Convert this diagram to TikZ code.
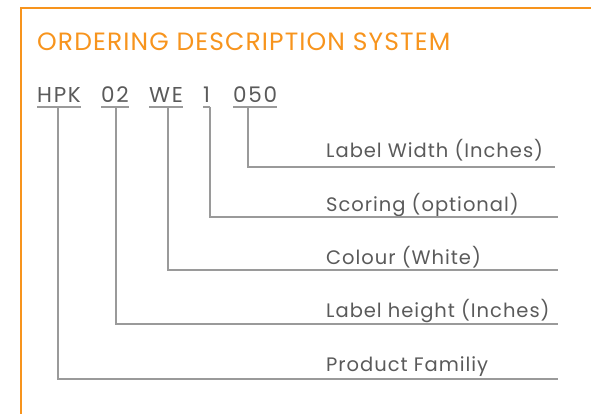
\documentclass[tikz,border=0pt]{standalone}
\usepackage{fontspec}
\setmainfont{Poppins}
\usetikzlibrary{calc}
\definecolor{orng}{HTML}{F7941D}
\definecolor{txtgray}{HTML}{5A5A5A}
\definecolor{lngray}{HTML}{9A9A9A}
\begin{document}
\begin{tikzpicture}[x=1pt,y=-1pt,
  titlestyle/.style={anchor=base west,inner sep=0pt,text=orng,font=\fontsize{25}{25}\selectfont\addfontfeature{LetterSpace=4.5}},
  code/.style={anchor=base west,inner sep=0pt,text=txtgray,font=\fontsize{21.5}{21.5}\selectfont\addfontfeature{LetterSpace=8}},
  lbl/.style={anchor=base west,inner sep=0pt,text=txtgray,font=\fontsize{19.5}{19.5}\selectfont\addfontfeature{LetterSpace=5}},
  conn/.style={draw=lngray,line width=1.4pt}]
\useasboundingbox (0,0) rectangle (591,414);
\draw[orng,line width=2.2pt] (591,8) -- (21,8) -- (21,414);
\node[titlestyle] (title) at (37,51) {ORDERING DESCRIPTION SYSTEM};
% codes
\node[code] (hpk) at (37,103) {HPK};
\node[code] (c02) at (101,103) {02};
\node[code] (we) at (149,103) {WE};
\node[code] (one) at (203,103) {1};
\node[code] (c050) at (233,103) {050};
% labels
\node[lbl] (lw) at (326,158) {Label Width (Inches)};
\node[lbl] (sc) at (326,211) {Scoring (optional)};
\node[lbl] (co) at (326,264) {Colour (White)};
\node[lbl] (lh) at (326,317) {Label height (Inches)};
\node[lbl] (pf) at (326,371) {Product Familiy};
% line ends
\coordinate (e1) at (555,167);
\coordinate (e2) at (558,217);
\coordinate (e3) at (558,270);
\coordinate (e4) at (558,324);
\coordinate (e5) at (558,379);
% underlines
\foreach \n in {hpk,c02,we,one,c050}
  \draw[conn] ($(\n.base west)+(0,4)$) -- ($(\n.base east)+(0,4)$);
% connectors
\draw[conn] ($(hpk.base west)+(21,4)$) |- (e5);
\draw[conn] ($(c02.base west)+(15,4)$) |- (e4);
\draw[conn] ($(we.base west)+(19,4)$) |- (e3);
\draw[conn] ($(one.base west)+(7,4)$) |- (e2);
\draw[conn] ($(c050.base west)+(15,4)$) |- (e1);
\end{tikzpicture}
\end{document}
